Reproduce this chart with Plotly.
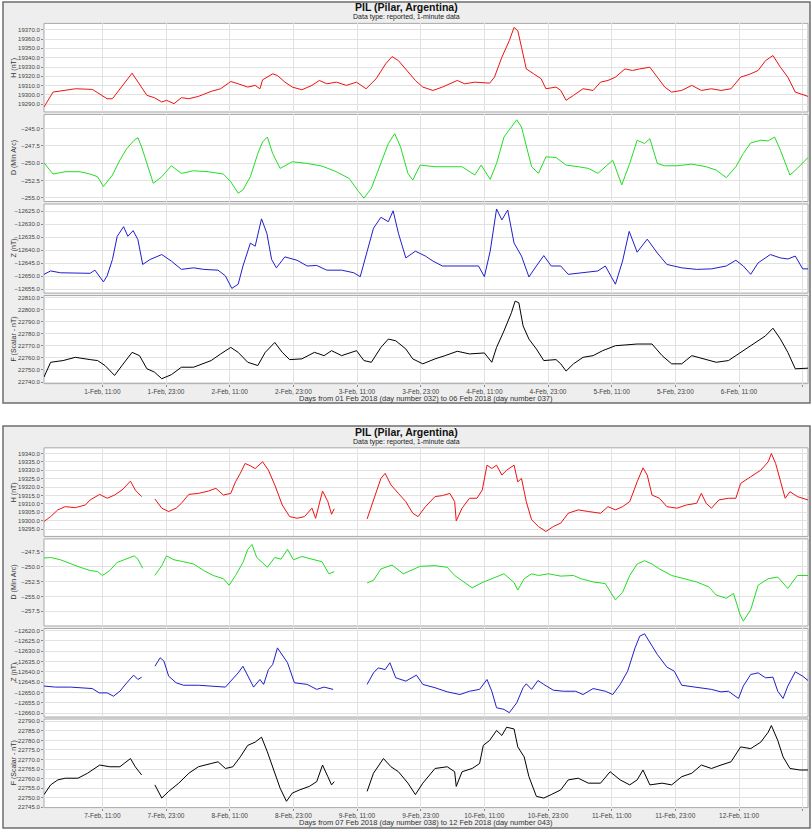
import pandas as pd
import plotly.graph_objects as go

# ---------------- data (hours from panel start, values) ----------------
START_1 = "2018-02-01 00:00"
START_2 = "2018-02-07 00:00"

h1_t = [0.0, 1.7, 5.9, 9.1, 11.9, 12.9, 16.6, 18.0, 19.4, 20.8,
        22.2, 23.1, 24.5, 25.9, 27.3, 29.1, 31.5, 33.3, 35.2, 36.6,
        38.4, 39.8, 40.7, 41.2, 43.1, 44.0, 45.4, 46.8, 48.6, 50.5,
        51.9, 53.3, 55.1, 57.0, 58.9, 60.7, 62.6, 64.4, 65.6, 66.8,
        68.2, 70.0, 71.4, 73.3, 75.1, 76.5, 77.9, 79.3, 81.2, 84.0,
        84.9, 86.3, 87.7, 88.6, 89.3, 90.0, 90.9, 92.3, 93.7, 94.6,
        96.5, 97.4, 98.4, 99.8, 101.6, 103.5, 104.9, 106.3, 107.7, 109.5,
        110.9, 112.3, 114.2, 115.6, 117.0, 118.3, 120.2, 122.1, 123.9, 125.8,
        127.6, 129.5, 131.3, 133.2, 134.6, 136.0, 137.4, 138.8, 140.2, 141.6,
        143.4, 144.0]
h1_v = [19287.1, 19303.1, 19306.7, 19306.0, 19296.0, 19296.0, 19323.4, 19312.0, 19299.6, 19297.1,
        19292.5, 19294.3, 19290.7, 19297.1, 19296.0, 19298.5, 19303.9, 19306.7, 19314.5, 19312.0,
        19308.5, 19310.3, 19306.7, 19316.3, 19322.7, 19320.9, 19313.8, 19308.5, 19305.6, 19310.3,
        19315.6, 19312.0, 19313.8, 19310.3, 19313.8, 19306.7, 19317.4, 19333.4, 19341.2, 19336.9,
        19328.0, 19315.6, 19308.5, 19304.9, 19308.5, 19312.0, 19315.6, 19312.0, 19313.8, 19312.7,
        19319.1, 19340.5, 19358.3, 19372.5, 19368.9, 19351.2, 19328.0, 19322.7, 19317.4, 19306.7,
        19308.5, 19304.9, 19294.3, 19299.6, 19306.7, 19304.9, 19313.8, 19315.6, 19319.1, 19328.0,
        19326.3, 19328.0, 19329.8, 19319.1, 19308.5, 19303.1, 19304.9, 19310.3, 19304.9, 19306.7,
        19304.9, 19306.7, 19319.1, 19322.7, 19326.3, 19336.9, 19342.3, 19329.8, 19319.1, 19303.1,
        19299.6, 19298.5]

d1_t = [0.0, 1.7, 4.0, 6.8, 8.7, 10.1, 11.2, 12.9, 14.3, 15.6,
        17.0, 17.7, 18.4, 19.4, 20.6, 22.2, 24.0, 25.9, 28.2, 31.0,
        33.8, 35.2, 36.6, 37.5, 38.9, 40.3, 41.2, 42.1, 43.1, 44.5,
        46.8, 49.6, 52.4, 55.1, 57.5, 59.3, 60.3, 61.7, 63.5, 64.9,
        66.1, 67.2, 68.6, 69.5, 70.9, 73.7, 76.5, 78.8, 81.2, 82.4,
        84.1, 85.3, 86.7, 88.1, 89.1, 90.0, 90.9, 91.9, 93.2, 94.6,
        96.5, 98.4, 100.7, 102.6, 104.4, 105.8, 107.2, 108.9, 110.4, 111.8,
        113.2, 114.2, 115.6, 116.95, 119.3, 122.1, 124.8, 126.7, 128.6, 130.4,
        131.8, 133.2, 135.1, 136.5, 137.7, 138.8, 140.6, 142.0, 144.0]
d1_v = [-249.93, -251.56, -251.22, -251.22, -251.56, -251.94, -253.37, -251.70, -249.55, -247.87,
        -246.67, -246.29, -247.63, -250.02, -252.89, -251.94, -250.36, -251.46, -251.08, -251.22,
        -251.56, -252.66, -254.33, -253.85, -251.94, -248.59, -246.91, -246.20, -248.59, -250.74,
        -249.78, -250.02, -250.41, -251.22, -252.18, -254.09, -255.05, -253.61, -250.02, -247.15,
        -245.72, -247.63, -251.46, -252.42, -250.26, -250.50, -250.50, -250.50, -251.70, -250.26,
        -252.32, -250.02, -246.20, -244.76, -243.71, -244.76, -247.63, -250.50, -251.46, -249.07,
        -249.16, -250.26, -250.50, -250.74, -251.46, -250.50, -249.55, -253.13, -250.02, -246.67,
        -247.15, -246.44, -250.02, -250.36, -250.36, -250.12, -250.50, -250.98, -252.08, -250.50,
        -248.59, -247.06, -246.67, -246.77, -246.20, -248.11, -251.70, -250.74, -249.16]

z1_t = [0.0, 1.25, 3.1, 5.9, 8.7, 9.6, 10.4, 11.2, 11.9, 12.9,
        13.8, 15.0, 15.8, 16.8, 17.7, 18.6, 20.0, 22.2, 24.0, 25.9,
        28.2, 30.1, 32.8, 34.2, 35.4, 36.6, 37.5, 38.9, 39.8, 41.0,
        42.0, 42.9, 43.8, 45.4, 47.7, 49.6, 51.4, 53.3, 56.1, 58.4,
        59.6, 60.7, 62.1, 63.5, 64.9, 65.8, 66.8, 68.2, 70.0, 71.9,
        73.3, 75.1, 77.4, 80.2, 81.9, 83.0, 84.1, 85.3, 86.3, 87.4,
        88.6, 90.0, 91.4, 92.8, 94.2, 95.6, 97.4, 98.8, 101.6, 104.4,
        105.8, 107.7, 109.05, 110.3, 111.8, 113.7, 115.6, 117.4, 120.2, 123.0,
        125.8, 128.6, 130.4, 131.8, 133.2, 134.6, 136.9, 138.8, 140.2, 141.6,
        143.0, 144.0]
z1_v = [-12649.3, -12648.0, -12648.7, -12648.7, -12648.9, -12647.7, -12649.9, -12652.2, -12649.9, -12643.6,
        -12634.7, -12631.0, -12634.7, -12632.5, -12636.0, -12645.5, -12643.6, -12641.7, -12644.2, -12647.4,
        -12646.8, -12647.4, -12647.7, -12649.9, -12654.7, -12653.1, -12646.1, -12637.3, -12638.5, -12628.0,
        -12633.5, -12643.6, -12646.8, -12642.6, -12643.9, -12646.1, -12645.9, -12647.7, -12647.7, -12648.7,
        -12650.2, -12642.3, -12631.6, -12627.4, -12629.1, -12624.9, -12633.5, -12643.0, -12640.4, -12642.3,
        -12644.2, -12646.1, -12646.1, -12646.1, -12646.1, -12650.2, -12640.4, -12624.2, -12628.4, -12624.6,
        -12637.3, -12642.3, -12650.3, -12646.1, -12642.1, -12646.1, -12646.1, -12649.3, -12648.7, -12648.0,
        -12646.1, -12653.1, -12644.2, -12632.8, -12640.8, -12635.8, -12641.1, -12645.5, -12646.8, -12647.4,
        -12647.2, -12646.1, -12643.9, -12646.1, -12649.3, -12644.9, -12641.7, -12643.0, -12643.4, -12642.3,
        -12647.2, -12647.2]

f1_t = [0.0, 1.25, 3.6, 5.9, 8.7, 10.1, 11.5, 13.3, 14.7, 16.6,
        18.0, 19.4, 20.8, 22.2, 24.0, 25.9, 28.2, 31.5, 33.3, 35.2,
        36.6, 38.4, 40.3, 41.7, 43.5, 44.9, 46.3, 48.6, 50.97, 52.8,
        54.2, 56.1, 58.9, 60.3, 61.7, 63.5, 64.9, 66.3, 68.2, 69.5,
        71.4, 73.7, 75.6, 77.9, 80.2, 83.0, 84.4, 85.3, 86.7, 88.1,
        88.8, 89.5, 90.3, 91.4, 92.8, 94.2, 96.5, 97.4, 98.4, 99.8,
        101.6, 103.5, 105.3, 107.7, 109.5, 111.8, 114.6, 116.5, 118.3, 120.2,
        122.1, 124.4, 126.7, 129.0, 130.9, 132.3, 134.1, 136.0, 137.4, 138.8,
        140.2, 141.6, 144.0]
f1_v = [22744.2, 22756.4, 22757.8, 22760.5, 22758.6, 22757.8, 22753.7, 22745.5, 22753.7, 22764.6,
        22761.9, 22751.0, 22748.3, 22742.8, 22746.1, 22752.3, 22752.3, 22757.8, 22763.3, 22768.7,
        22764.6, 22756.4, 22753.7, 22764.6, 22772.8, 22764.6, 22758.6, 22759.2, 22764.6, 22761.9,
        22766.0, 22761.9, 22766.0, 22757.8, 22756.4, 22768.7, 22775.6, 22774.2, 22767.4, 22759.2,
        22755.1, 22759.2, 22761.9, 22765.5, 22763.3, 22764.1, 22756.4, 22768.7, 22782.4, 22797.4,
        22807.0, 22805.6, 22786.5, 22775.6, 22767.4, 22757.8, 22758.6, 22755.1, 22749.1, 22755.1,
        22760.5, 22761.9, 22766.0, 22770.1, 22770.7, 22771.5, 22771.5, 22761.9, 22755.1, 22755.1,
        22761.9, 22759.2, 22756.4, 22757.8, 22763.3, 22767.4, 22772.8, 22778.3, 22784.6, 22775.6,
        22764.6, 22751.0, 22751.5]

h2_t = [0.0, 1.25, 2.6, 4.0, 5.9, 7.8, 8.7, 10.5, 11.9, 13.3,
        14.7, 16.3, 17.2, 18.4, 19.5, 20.9, 22.2, 23.5, 24.9, 25.9,
        27.3, 29.1, 31.0, 32.4, 33.8, 35.2, 36.1, 37.0, 37.9, 38.9,
        39.8, 41.2, 42.3, 43.5, 44.9, 46.3, 47.7, 49.1, 50.5, 51.2,
        52.5, 53.5, 54.2, 54.7, 57.5, 60.9, 62.1, 63.5, 64.3, 65.4,
        66.8, 68.2, 69.5, 70.5, 71.9, 73.7, 75.1, 76.5, 77.4, 77.7,
        78.8, 80.2, 81.6, 82.6, 83.5, 84.4, 85.3, 86.3, 87.2, 88.6,
        89.3, 90.0, 90.9, 91.9, 93.2, 94.6, 96.0, 97.4, 98.8, 100.7,
        102.6, 104.9, 106.3, 107.7, 109.05, 110.4, 111.8, 112.9, 113.7, 114.6,
        116.0, 117.4, 119.3, 121.1, 123.0, 123.9, 124.8, 125.8, 127.2, 129.0,
        130.4, 131.3, 133.2, 135.1, 136.5, 137.1, 137.9, 138.8, 139.7, 140.6,
        142.0, 144.0]
h2_v = [19299.6, 19302.5, 19306.5, 19308.4, 19307.8, 19309.4, 19312.4, 19315.7, 19313.4, 19315.3,
        19318.3, 19323.6, 19318.3, 19314.4, None, 19313.0, 19307.5, 19305.5, 19307.5, 19310.4,
        19315.7, 19316.3, 19317.7, 19319.3, 19315.3, 19316.3, 19323.2, 19328.2, 19334.1, 19332.7,
        19331.1, 19335.1, 19330.1, 19321.3, 19309.4, 19302.5, 19301.5, 19302.5, 19307.5, 19301.5,
        19317.7, 19311.4, 19303.9, 19307.1, None, 19301.1, 19312.4, 19325.2, 19328.2, 19321.3,
        19316.3, 19311.4, 19304.5, 19302.5, 19308.4, 19314.4, 19315.0, 19316.3, 19311.4, 19300.0,
        19307.5, 19313.4, 19313.4, 19318.3, 19333.1, 19331.1, 19333.1, 19327.2, 19330.1, 19333.1,
        19323.2, 19325.2, 19311.4, 19300.6, 19296.6, 19293.6, 19296.6, 19298.6, 19304.5, 19306.5,
        19305.5, 19304.5, 19308.4, 19306.5, 19308.4, 19311.4, 19323.2, 19331.5, 19327.2, 19315.3,
        19313.4, 19308.4, 19307.5, 19309.4, 19310.4, 19316.3, 19310.4, 19307.5, 19312.4, 19313.4,
        19313.4, 19322.2, 19326.2, 19330.1, 19335.1, 19340.0, 19334.1, 19323.2, 19313.4, 19317.3,
        19314.4, 19312.4]

d2_t = [0.0, 1.25, 3.1, 5.0, 6.8, 8.7, 10.1, 11.0, 12.4, 13.8,
        15.6, 17.0, 17.7, 18.6, 19.5, 20.9, 22.2, 23.1, 24.5, 26.3,
        28.2, 30.1, 31.9, 33.8, 34.9, 36.1, 37.5, 38.4, 39.2, 40.1,
        41.2, 42.1, 43.5, 44.7, 45.9, 47.0, 48.6, 50.5, 52.4, 53.7,
        54.7, 57.5, 60.9, 62.1, 63.5, 65.6, 67.7, 69.1, 70.9, 73.7,
        76.0, 77.4, 78.8, 80.7, 82.6, 84.4, 86.7, 88.6, 89.3, 90.5,
        91.9, 93.2, 95.1, 97.4, 99.8, 101.2, 103.5, 105.8, 107.7, 109.05,
        110.4, 111.8, 113.2, 114.6, 116.0, 118.3, 120.7, 123.0, 125.3, 126.7,
        128.6, 129.96, 131.2, 131.8, 133.2, 134.6, 136.5, 138.3, 140.2, 142.0,
        144.0]
d2_v = [-248.54, -248.43, -248.82, -249.53, -250.08, -250.63, -250.80, -251.46, -250.63, -249.26,
        -248.60, -248.16, -248.71, -250.25, None, -251.46, -249.81, -248.16, -248.82, -249.15,
        -249.53, -250.63, -251.46, -252.01, -253.10, -251.46, -249.26, -247.06, -246.24, -248.43,
        -249.26, -250.08, -248.43, -248.71, -247.06, -248.82, -248.27, -248.71, -249.15, -251.18,
        -250.80, None, -252.72, -252.28, -250.36, -249.70, -251.18, -250.63, -249.92, -249.81,
        -250.08, -251.46, -252.28, -253.54, -252.66, -252.01, -251.18, -252.66, -253.93, -252.01,
        -251.18, -251.46, -251.18, -251.57, -251.46, -252.01, -252.55, -252.83, -255.58, -254.31,
        -251.46, -249.53, -248.98, -249.53, -250.36, -251.46, -252.01, -252.55, -253.38, -254.75,
        -255.30, -254.48, -258.05, -259.15, -257.23, -253.10, -252.01, -251.73, -253.65, -251.46,
        -251.46]

z2_t = [0.0, 2.2, 5.0, 7.8, 9.1, 10.4, 11.9, 13.1, 14.3, 15.6,
        16.9, 17.7, 18.4, 19.5, 20.9, 21.9, 22.6, 23.5, 24.9, 26.3,
        29.1, 31.9, 34.2, 35.2, 36.6, 37.5, 38.4, 39.5, 40.7, 41.4,
        42.3, 43.1, 44.0, 44.9, 45.9, 47.2, 49.6, 51.4, 52.8, 54.5,
        57.5, 60.9, 62.1, 63.0, 64.3, 65.2, 66.3, 68.2, 70.2, 71.4,
        73.7, 76.0, 78.4, 80.2, 82.1, 83.5, 84.4, 85.3, 86.7, 87.7,
        89.1, 90.3, 90.9, 91.9, 93.1, 94.2, 96.0, 97.9, 100.2, 101.6,
        103.5, 105.8, 107.2, 108.6, 110.0, 111.4, 112.3, 113.2, 114.2, 115.6,
        117.4, 118.8, 120.2, 123.0, 125.8, 127.6, 129.0, 130.9, 131.8, 133.2,
        134.6, 136.0, 137.4, 138.3, 139.3, 140.2, 141.6, 143.0, 144.0]
z2_v = [-12646.9, -12647.4, -12647.4, -12647.7, -12648.1, -12650.2, -12650.2, -12651.8, -12649.4, -12645.3,
        -12641.6, -12643.7, -12642.6, None, -12637.3, -12633.2, -12634.8, -12642.1, -12645.3, -12646.5,
        -12646.5, -12646.9, -12647.4, -12644.5, -12640.5, -12637.3, -12642.1, -12647.4, -12643.7, -12646.1,
        -12638.9, -12636.5, -12628.4, -12631.6, -12635.6, -12645.3, -12646.1, -12648.5, -12647.4, -12648.5,
        None, -12646.1, -12640.5, -12638.1, -12638.9, -12635.6, -12642.9, -12644.5, -12641.6, -12646.1,
        -12647.7, -12649.7, -12651.0, -12649.4, -12648.5, -12643.7, -12649.4, -12657.4, -12658.2, -12659.8,
        -12655.0, -12647.7, -12645.8, -12648.5, -12644.2, -12646.1, -12648.9, -12649.4, -12649.4, -12651.0,
        -12648.1, -12649.4, -12651.0, -12646.1, -12639.7, -12628.4, -12622.7, -12621.6, -12625.5, -12631.6,
        -12637.7, -12639.7, -12646.5, -12647.4, -12648.5, -12649.7, -12649.4, -12652.9, -12646.9, -12641.3,
        -12640.5, -12642.9, -12642.6, -12649.4, -12652.9, -12646.9, -12640.0, -12642.1, -12644.2]

f2_t = [0.0, 1.25, 2.6, 4.0, 6.4, 8.2, 10.5, 12.4, 14.3, 16.3,
        17.2, 18.4, 19.5, 20.9, 22.2, 23.5, 25.4, 27.3, 29.1, 31.5,
        32.8, 34.2, 35.6, 37.0, 38.4, 39.8, 41.0, 42.1, 43.5, 44.5,
        45.7, 46.8, 48.2, 50.0, 51.4, 52.5, 53.5, 54.2, 54.7, 57.5,
        60.9, 62.1, 63.98, 65.4, 66.8, 68.6, 70.0, 71.4, 73.7, 76.0,
        77.4, 77.7, 78.8, 80.7, 82.1, 82.8, 84.0, 85.3, 86.3, 87.2,
        88.6, 89.3, 90.5, 91.4, 92.8, 94.2, 95.6, 97.4, 98.8, 100.7,
        102.6, 104.9, 106.7, 108.6, 110.4, 111.8, 112.9, 114.2, 116.5, 118.3,
        120.2, 122.1, 123.9, 125.8, 127.6, 129.5, 131.3, 133.2, 135.1, 136.5,
        137.1, 138.3, 139.3, 140.6, 142.5, 144.0]
f2_v = [22751.6, 22756.7, 22759.3, 22760.2, 22760.2, 22762.8, 22767.1, 22766.2, 22766.2, 22770.5,
        22766.2, 22761.9, None, 22756.7, 22749.8, 22753.3, 22757.6, 22762.8, 22766.2, 22767.9,
        22768.8, 22765.3, 22766.2, 22771.4, 22777.4, 22779.1, 22781.7, 22774.0, 22762.8, 22755.0,
        22748.1, 22752.4, 22754.1, 22755.9, 22758.4, 22767.1, 22761.0, 22756.7, 22758.4, None,
        22753.3, 22762.8, 22770.5, 22766.2, 22763.6, 22757.6, 22751.6, 22757.6, 22765.3, 22766.2,
        22763.6, 22755.9, 22763.6, 22765.3, 22767.9, 22777.4, 22780.0, 22785.2, 22782.6, 22786.9,
        22786.0, 22776.6, 22771.4, 22761.0, 22750.7, 22749.8, 22751.6, 22754.1, 22759.3, 22760.2,
        22757.6, 22757.6, 22763.6, 22759.3, 22756.7, 22759.3, 22764.5, 22756.7, 22757.6, 22756.7,
        22761.0, 22762.8, 22767.1, 22765.3, 22767.1, 22768.8, 22776.6, 22775.7, 22779.1, 22784.3,
        22787.8, 22780.0, 22771.4, 22765.3, 22764.5, 22764.5]

x_ticklabels_1 = ["1-Feb, 11:00", "1-Feb, 23:00", "2-Feb, 11:00", "2-Feb, 23:00",
                  "3-Feb, 11:00", "3-Feb, 23:00", "4-Feb, 11:00", "4-Feb, 23:00",
                  "5-Feb, 11:00", "5-Feb, 23:00", "6-Feb, 11:00", "6-Feb, 23:00"]
x_ticklabels_2 = ["7-Feb, 11:00", "7-Feb, 23:00", "8-Feb, 11:00", "8-Feb, 23:00",
                  "9-Feb, 11:00", "9-Feb, 23:00", "10-Feb, 11:00", "10-Feb, 23:00",
                  "11-Feb, 11:00", "11-Feb, 23:00", "12-Feb, 11:00", "12-Feb, 23:00"]
x_tick_hours = [11, 23, 35, 47, 59, 71, 83, 95, 107, 119, 131, 143]

y_titles = ["H (nT)", "D (Min Arc)", "Z (nT)", "F (Scalar - nT)"]
colors = ["#ee1111", "#22dd22", "#1f1fcc", "#000000"]

# ---------------- layout helpers ----------------
W, H = 812, 832
PXL, PXR = 44, 808


def yp(y):
    return 1 - y / H


def xp(x):
    return x / W


panels = [
    dict(start=START_1,
         series=[(h1_t, h1_v), (d1_t, d1_v), (z1_t, z1_v), (f1_t, f1_v)],
         rows=[(22.5, 111.5), (114, 201.5), (204, 293.5), (296, 384.5)],
         ranges=[[19281.8, 19376.8], [-255.53, -242.94], [-12656.5, -12622.3], [22738.7, 22811.6]],
         ticks=[(19290, 10), (-255, 2.5), (-12655, 5), (22740, 10)],
         xlabels=x_ticklabels_1,
         xtitle="Days from 01 Feb 2018 (day number 032) to 06 Feb 2018 (day number 037)",
         box=(1, 404), title_y=6.5, sub_y=16.5, xt_y=399.5),
    dict(start=START_2,
         series=[(h2_t, h2_v), (d2_t, d2_v), (z2_t, z2_v), (f2_t, f2_v)],
         rows=[(449, 538), (540.5, 628), (630.5, 719.5), (721.5, 810.5)],
         ranges=[[19290.7, 19343.4], [-259.97, -245.3], [-12661.9, -12619.0], [22744.8, 22791.2]],
         ticks=[(19295, 5), (-257.5, 2.5), (-12660, 5), (22745, 5)],
         xlabels=x_ticklabels_2,
         xtitle="Days from 07 Feb 2018 (day number 038) to 12 Feb 2018 (day number 043)",
         box=(427, 831), title_y=433, sub_y=443.5, xt_y=825.5),
]

FONT = "Liberation Sans"
fig = go.Figure()
shapes = []
annotations = []
layout = dict(width=W, height=H, margin=dict(l=0, r=0, t=0, b=0),
              paper_bgcolor="white", plot_bgcolor="white", showlegend=False,
              font=dict(family=FONT, size=7, color="#333333"))


def note(text, x, y, size, color="#333333", angle=0):
    return dict(text=text, xref="paper", yref="paper", x=x, y=y, showarrow=False,
                xanchor="center", yanchor="middle", textangle=angle,
                font=dict(size=size, color=color, family=FONT))


idx = 0
for p in panels:
    start = pd.Timestamp(p["start"])
    x0 = start
    x1 = start + pd.Timedelta(hours=144)
    tickvals = [start + pd.Timedelta(hours=h) for h in x_tick_hours]
    b0, b1 = p["box"]
    shapes.append(dict(type="rect", xref="paper", yref="paper", layer="below",
                       x0=xp(3), x1=xp(810), y0=yp(b1), y1=yp(b0),
                       fillcolor="#eeeeee", line=dict(color="#6e6e6e", width=1.5)))
    annotations.append(note("<b>PIL (Pilar, Argentina)</b>", xp(406), yp(p["title_y"]), 10.5, "#111111"))
    annotations.append(note("Data type: reported, 1-minute data", xp(406), yp(p["sub_y"]), 7, "#222222"))
    annotations.append(note(p["xtitle"], xp((PXL + PXR) / 2), yp(p["xt_y"]), 7.5))
    for c in range(4):
        idx += 1
        top, bot = p["rows"][c]
        tt, vv = p["series"][c]
        xs = [start + pd.Timedelta(hours=t) for t in tt]
        xa = "x" if idx == 1 else f"x{idx}"
        ya = "y" if idx == 1 else f"y{idx}"
        fig.add_trace(go.Scatter(x=xs, y=vv, mode="lines", xaxis=xa, yaxis=ya,
                                 line=dict(color=colors[c], width=1),
                                 connectgaps=False, hoverinfo="skip"))
        shapes.append(dict(type="rect", xref="paper", yref="paper", layer="below",
                           x0=xp(PXL), x1=xp(PXR), y0=yp(bot), y1=yp(top),
                           fillcolor="white", line=dict(color="#a8a8a8", width=1)))
        key_x = "xaxis" if idx == 1 else f"xaxis{idx}"
        key_y = "yaxis" if idx == 1 else f"yaxis{idx}"
        layout[key_x] = dict(type="date", domain=[xp(PXL), xp(PXR)], anchor=ya,
                             range=[x0, x1], tickmode="array", tickvals=tickvals,
                             ticktext=p["xlabels"], showticklabels=(c == 3),
                             showgrid=True, gridcolor="#e2e2e2", gridwidth=1,
                             zeroline=False, showline=False,
                             ticks="outside" if c == 3 else "", ticklen=2, tickcolor="#888888",
                             tickfont=dict(size=6.5, color="#444444", family=FONT))
        t0, dt = p["ticks"][c]
        layout[key_y] = dict(domain=[yp(bot), yp(top)], anchor=xa, range=p["ranges"][c],
                             tickmode="linear", tick0=t0, dtick=dt, tickformat=".1f",
                             showgrid=True, gridcolor="#e2e2e2", gridwidth=1,
                             zeroline=False, showline=False,
                             ticks="outside", ticklen=2, tickcolor="#888888",
                             tickfont=dict(size=6, color="#444444", family=FONT))
        annotations.append(note(y_titles[c], xp(14), yp((top + bot) / 2), 7, angle=-90))

layout["shapes"] = shapes
layout["annotations"] = annotations
fig.update_layout(**layout)
fig.write_html("out.html")
